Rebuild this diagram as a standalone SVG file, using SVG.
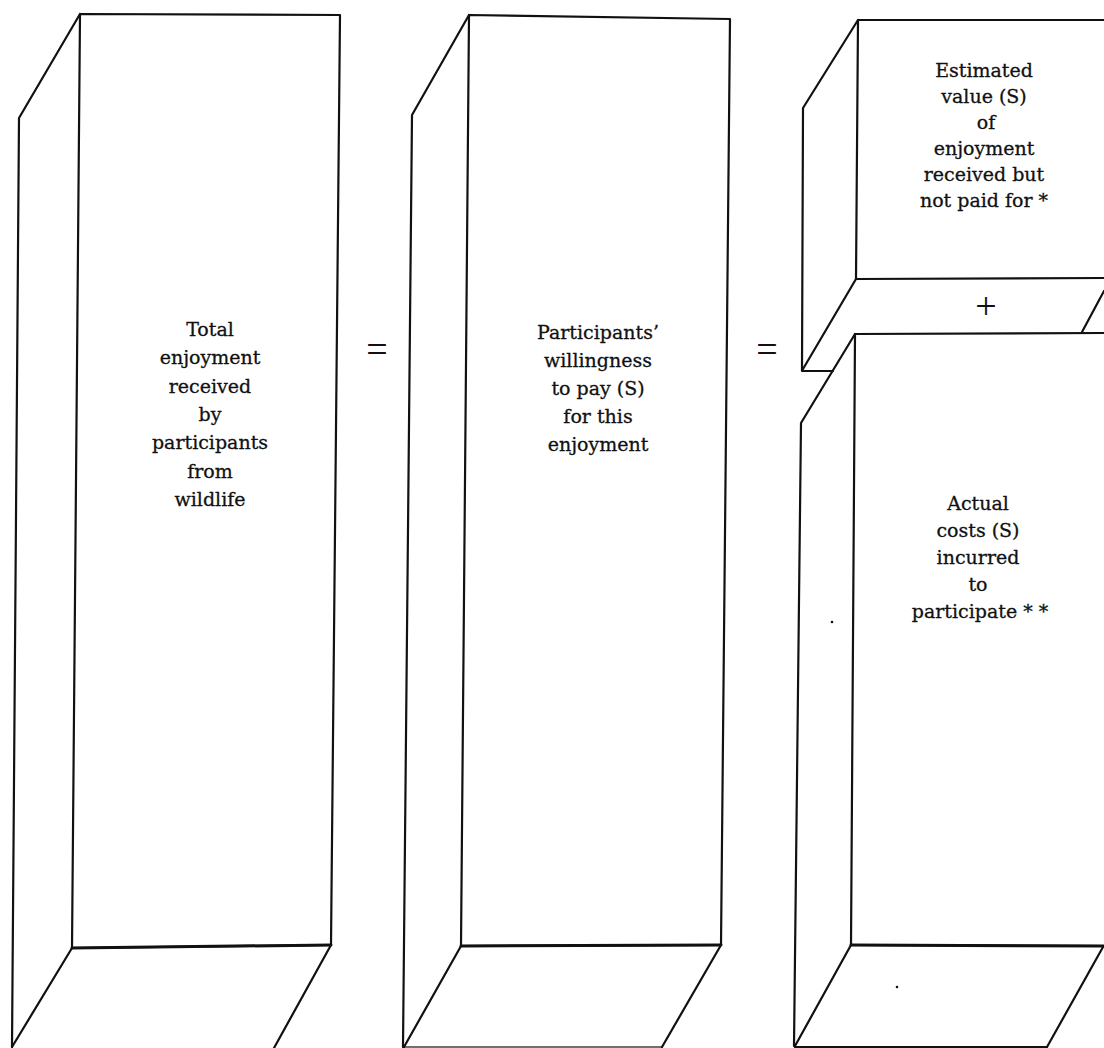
<svg xmlns="http://www.w3.org/2000/svg" width="1104" height="1048" viewBox="0 0 1104 1048">
<style>
.ln{fill:none;stroke:#111;stroke-width:2.2;stroke-linejoin:round;stroke-linecap:round}
.hv{fill:none;stroke:#111;stroke-width:3;stroke-linecap:round}
.lbl{font-family:"DejaVu Serif","Liberation Serif",serif;font-size:19px;fill:#111;stroke:#111;stroke-width:0.3;text-anchor:middle}
.op{font-family:"Liberation Serif",serif;font-size:38px;fill:#111;text-anchor:middle}
</style>
<rect width="1104" height="1048" fill="#fff"/>
<g id="box-total">
<polygon class="ln" points="80,14 340,15 331,945 72,948"/>
<line class="hv" x1="72" y1="948" x2="331" y2="945"/>
<polyline class="ln" points="80,14 19,118 12,1047"/>
<line class="ln" x1="72" y1="948" x2="12" y2="1047"/>
<line class="ln" x1="331" y1="945" x2="274" y2="1048"/>
<text class="lbl" x="210" y="336">Total</text>
<text class="lbl" x="210" y="364">enjoyment</text>
<text class="lbl" x="210" y="393">received</text>
<text class="lbl" x="210" y="421">by</text>
<text class="lbl" x="210" y="449">participants</text>
<text class="lbl" x="210" y="478">from</text>
<text class="lbl" x="210" y="506">wildlife</text>
</g>
<g id="box-willingness">
<polygon class="ln" points="469,15 730,19 721,945 461,946"/>
<line class="hv" x1="461" y1="946" x2="721" y2="945"/>
<polyline class="ln" points="469,15 412,115 403,1047"/>
<line class="ln" x1="461" y1="946" x2="404" y2="1047"/>
<line class="ln" x1="721" y1="945" x2="662" y2="1047"/>
<line class="ln" x1="404" y1="1047" x2="662" y2="1047" stroke-opacity="0.6"/>
<text class="lbl" x="598" y="339">Participants’</text>
<text class="lbl" x="598" y="367">willingness</text>
<text class="lbl" x="598" y="395">to pay (S)</text>
<text class="lbl" x="598" y="423">for this</text>
<text class="lbl" x="598" y="451">enjoyment</text>
</g>
<g id="box-estimated">
<polyline class="ln" points="1104,20 858,20 856,279 1104,278"/>
<polyline class="ln" points="858,20 803,108 802,371 833,371"/>
<line class="ln" x1="856" y1="279" x2="803" y2="369"/>
<line class="ln" x1="1104" y1="291" x2="1082" y2="332"/>
<text class="lbl" x="984" y="77">Estimated</text>
<text class="lbl" x="984" y="103">value (S)</text>
<text class="lbl" x="986" y="129">of</text>
<text class="lbl" x="984" y="155">enjoyment</text>
<text class="lbl" x="984" y="181">received but</text>
<text class="lbl" x="984" y="207">not paid for *</text>
</g>
<g id="box-actual">
<polyline class="ln" points="1104,333 855,334 851,945 1104,946"/>
<line class="hv" x1="851" y1="945" x2="1104" y2="946"/>
<polyline class="ln" points="855,334 801,423 794,1046"/>
<line class="ln" x1="851" y1="945" x2="795" y2="1046"/>
<line class="ln" x1="1103" y1="947" x2="1047" y2="1047"/>
<line class="ln" x1="795" y1="1047" x2="1047" y2="1047"/>
<circle cx="897" cy="987" r="1.3" fill="#111"/>
<circle cx="832" cy="622" r="1.3" fill="#111"/>
<text class="lbl" x="978" y="510">Actual</text>
<text class="lbl" x="978" y="537">costs (S)</text>
<text class="lbl" x="978" y="564">incurred</text>
<text class="lbl" x="978" y="591">to</text>
<text class="lbl" x="980" y="618">participate * *</text>
</g>
<g id="connectors">
<text class="op" x="377" y="362">=</text>
<text class="op" x="767" y="362">=</text>
<text class="op" x="986" y="319">+</text>
</g>
</svg>
